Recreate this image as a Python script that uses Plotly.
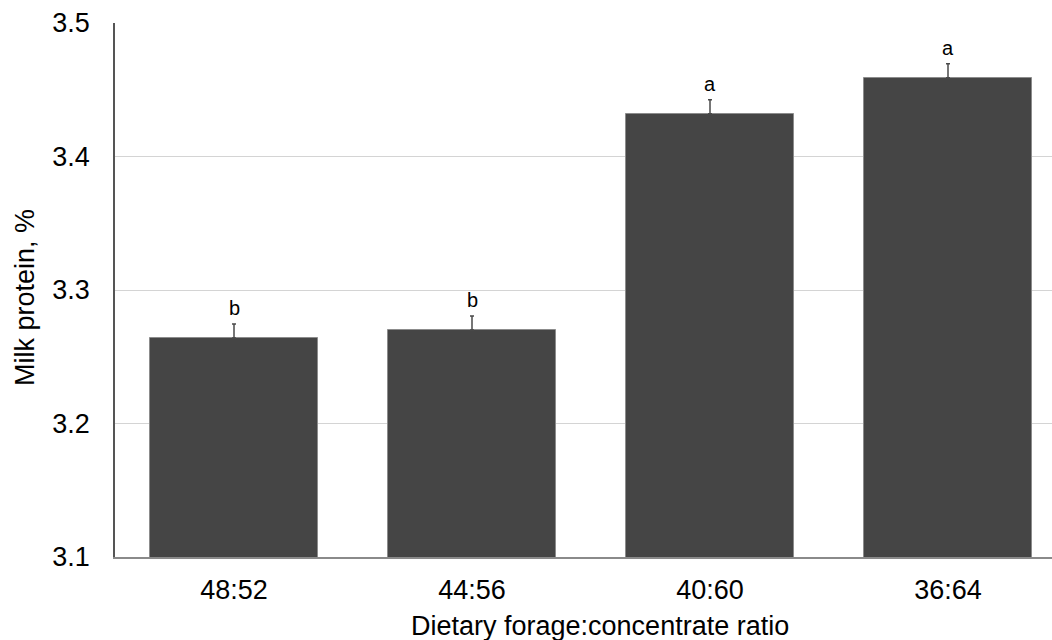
import plotly.graph_objects as go

categories = ["48:52", "44:56", "40:60", "36:64"]
milk_protein = [3.264, 3.270, 3.432, 3.459]
sem = [0.0105, 0.0105, 0.0105, 0.0105]
sem_minus = [0, 0, 0, 0]
letters = ["b", "b", "a", "a"]
y_ticks = [3.1, 3.2, 3.3, 3.4, 3.5]

W, H = 1052, 640
L, T, B = 115, 23, 83
plot_w = W - L
cat_px = 238.0
x_hi = -0.5 + plot_w / cat_px
plot_h = H - T - B

FONT = "Liberation Sans, Arial, Helvetica, sans-serif"

fig = go.Figure()
fig.add_trace(go.Bar(
    x=list(range(len(categories))),
    y=milk_protein,
    width=0.71,
    marker=dict(color="#454545", line=dict(color="#8c8c8c", width=1)),
    error_y=dict(type="data", array=sem, arrayminus=sem_minus, symmetric=False,
                 visible=True, color="#4a4a4a", thickness=1.5, width=2),
    showlegend=False,
))

for i, (v, e, t) in enumerate(zip(milk_protein, sem, letters)):
    fig.add_annotation(x=i, y=v + e, text=t, showarrow=False, yanchor="bottom",
                       yshift=3, font=dict(family=FONT, size=20, color="black"))

fig.add_annotation(xref="paper", yref="paper",
                   x=(600 - L) / plot_w, y=(557 - 626) / plot_h,
                   text="Dietary forage:concentrate ratio", showarrow=False,
                   xanchor="center", yanchor="middle",
                   font=dict(family=FONT, size=27, color="black"))
fig.add_annotation(xref="paper", yref="paper",
                   x=(25 - L) / plot_w, y=(557 - 298) / plot_h, textangle=-90,
                   text="Milk protein, %", showarrow=False,
                   xanchor="center", yanchor="middle",
                   font=dict(family=FONT, size=27, color="black"))

fig.update_layout(
    width=W, height=H,
    margin=dict(l=L, r=0, t=T, b=B),
    plot_bgcolor="white", paper_bgcolor="white",
    bargap=0,
    font=dict(family=FONT, color="black"),
    xaxis=dict(
        range=[-0.5, x_hi],
        tickmode="array", tickvals=list(range(len(categories))), ticktext=categories,
        showgrid=False, zeroline=False,
        showline=True, linecolor="#8a8a8a", linewidth=1.5,
        ticks="", ticklabelstandoff=8,
        tickfont=dict(family=FONT, size=27, color="black"),
    ),
    yaxis=dict(
        range=[3.1, 3.5],
        tickmode="array", tickvals=y_ticks, ticktext=[f"{v:.1f}" for v in y_ticks],
        showgrid=True, gridcolor="#d4d4d4", gridwidth=1,
        zeroline=False,
        showline=True, linecolor="#555555", linewidth=1.5,
        ticks="", ticklabelstandoff=18,
        tickfont=dict(family=FONT, size=27, color="black"),
    ),
)

fig.write_html("out.html")
